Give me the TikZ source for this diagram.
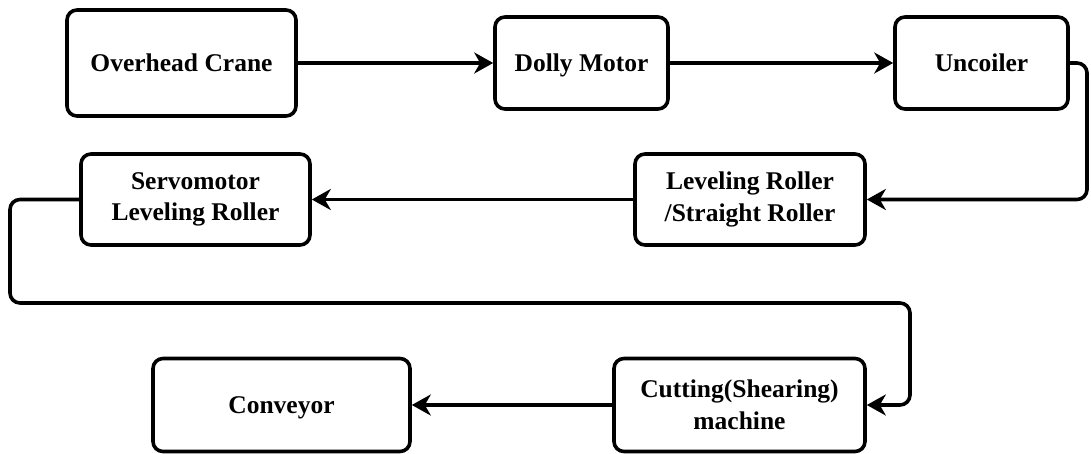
\documentclass[tikz,border=0pt]{standalone}
\usepackage{fontspec}
\setmainfont{Liberation Serif}
\usetikzlibrary{arrows.meta}
\begin{document}
\begin{tikzpicture}[x=1pt,y=-1pt,
  box/.style={draw, line width=3.6pt, rounded corners=10pt, align=center,
    font=\fontsize{25.5}{31.5}\selectfont\bfseries, inner sep=0pt},
  oneline/.style={text height=24pt, text depth=6.5pt},
  arr/.style={line width=3.6pt, -{Stealth[length=19pt,width=21pt,inset=6pt]}, rounded corners=10pt}]
\useasboundingbox (0,0) rectangle (1091,454);
\node[box, oneline, minimum width=229pt, minimum height=106pt] (oc) at (181.5,63) {Overhead Crane};
\node[box, oneline, minimum width=173pt, minimum height=92pt] (dm) at (581.5,63) {Dolly Motor};
\node[box, oneline, minimum width=173pt, minimum height=92pt] (un) at (981.5,63) {Uncoiler};
\node[box, minimum width=230pt, minimum height=91pt] (lr) at (750,199.5) {Leveling Roller\\/Straight Roller};
\node[box, minimum width=229pt, minimum height=91pt] (sm) at (195.5,199.5) {Servomotor\\Leveling Roller};
\node[box, minimum width=251pt, minimum height=93pt] (cu) at (739.5,405) {Cutting(Shearing)\\machine};
\node[box, oneline, minimum width=257pt, minimum height=93pt] (co) at (281.5,405) {Conveyor};
\coordinate (c1) at (1087,63);
\coordinate (c2) at (10,199.5);
\coordinate (c3) at (10,303);
\coordinate (c4) at (910,303);
\draw[arr] (oc.east) -- (dm.west);
\draw[arr] (dm.east) -- (un.west);
\draw[arr] (un.east) -- (c1) |- (lr.east);
\draw[arr] (lr.west) -- (sm.east);
\draw[arr] (sm.west) -- (c2) -- (c3) -- (c4) |- (cu.east);
\draw[arr] (cu.west) -- (co.east);
\end{tikzpicture}
\end{document}
